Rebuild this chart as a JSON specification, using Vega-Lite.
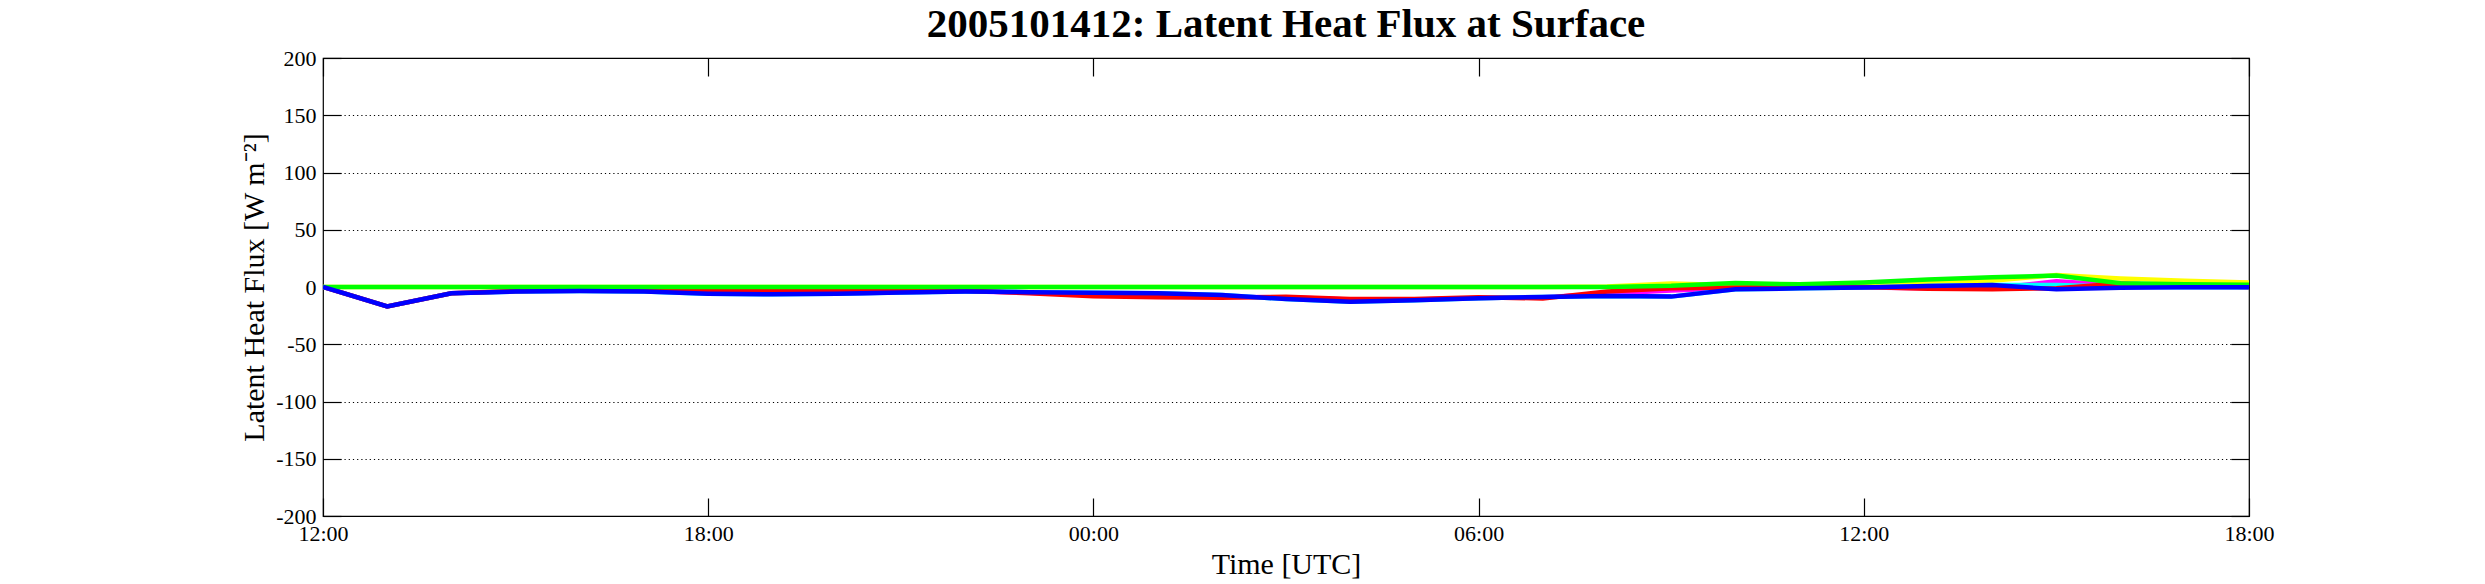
{
  "$schema": "https://vega.github.io/schema/vega-lite/v6.json",
  "width": 1926,
  "height": 458,
  "autosize": "none",
  "padding": {"left": 323, "top": 58, "right": 236, "bottom": 68},
  "background": "white",
  "config": {
    "view": {"stroke": "black", "strokeWidth": 1.2},
    "font": "Liberation Serif"
  },
  "title": {
    "text": "2005101412: Latent Heat Flux at Surface",
    "font": "Liberation Serif",
    "fontSize": 41,
    "fontWeight": "bold",
    "color": "black",
    "anchor": "middle",
    "offset": 1
  },
  "data": {
    "values": [
      {"t": "2005-10-14T12:00Z", "s": "yellow", "v": 0},
      {"t": "2005-10-14T13:00Z", "s": "yellow", "v": 0},
      {"t": "2005-10-14T14:00Z", "s": "yellow", "v": 0},
      {"t": "2005-10-14T15:00Z", "s": "yellow", "v": 0},
      {"t": "2005-10-14T16:00Z", "s": "yellow", "v": 0},
      {"t": "2005-10-14T17:00Z", "s": "yellow", "v": 0},
      {"t": "2005-10-14T18:00Z", "s": "yellow", "v": 0},
      {"t": "2005-10-14T19:00Z", "s": "yellow", "v": 0},
      {"t": "2005-10-14T20:00Z", "s": "yellow", "v": 0},
      {"t": "2005-10-14T21:00Z", "s": "yellow", "v": 0},
      {"t": "2005-10-14T22:00Z", "s": "yellow", "v": 0},
      {"t": "2005-10-14T23:00Z", "s": "yellow", "v": 0},
      {"t": "2005-10-15T00:00Z", "s": "yellow", "v": 0},
      {"t": "2005-10-15T01:00Z", "s": "yellow", "v": 0},
      {"t": "2005-10-15T02:00Z", "s": "yellow", "v": 0},
      {"t": "2005-10-15T03:00Z", "s": "yellow", "v": 0},
      {"t": "2005-10-15T04:00Z", "s": "yellow", "v": 0},
      {"t": "2005-10-15T05:00Z", "s": "yellow", "v": 0},
      {"t": "2005-10-15T06:00Z", "s": "yellow", "v": 0},
      {"t": "2005-10-15T07:00Z", "s": "yellow", "v": 0},
      {"t": "2005-10-15T08:00Z", "s": "yellow", "v": 0.5},
      {"t": "2005-10-15T09:00Z", "s": "yellow", "v": 3},
      {"t": "2005-10-15T10:00Z", "s": "yellow", "v": 1.5},
      {"t": "2005-10-15T11:00Z", "s": "yellow", "v": 1.5},
      {"t": "2005-10-15T12:00Z", "s": "yellow", "v": 2.5},
      {"t": "2005-10-15T13:00Z", "s": "yellow", "v": 4.5},
      {"t": "2005-10-15T14:00Z", "s": "yellow", "v": 5.5},
      {"t": "2005-10-15T15:00Z", "s": "yellow", "v": 10.5},
      {"t": "2005-10-15T16:00Z", "s": "yellow", "v": 7.5},
      {"t": "2005-10-15T17:00Z", "s": "yellow", "v": 5.5},
      {"t": "2005-10-15T18:00Z", "s": "yellow", "v": 4},

      {"t": "2005-10-14T12:00Z", "s": "magenta", "v": 0},
      {"t": "2005-10-14T13:00Z", "s": "magenta", "v": -17},
      {"t": "2005-10-14T14:00Z", "s": "magenta", "v": -5.5},
      {"t": "2005-10-14T15:00Z", "s": "magenta", "v": -3.8},
      {"t": "2005-10-14T16:00Z", "s": "magenta", "v": -3.2},
      {"t": "2005-10-14T17:00Z", "s": "magenta", "v": -3.5},
      {"t": "2005-10-14T18:00Z", "s": "magenta", "v": -5},
      {"t": "2005-10-14T19:00Z", "s": "magenta", "v": -6},
      {"t": "2005-10-14T20:00Z", "s": "magenta", "v": -5.8},
      {"t": "2005-10-14T21:00Z", "s": "magenta", "v": -4.5},
      {"t": "2005-10-14T22:00Z", "s": "magenta", "v": -3.8},
      {"t": "2005-10-14T23:00Z", "s": "magenta", "v": -5},
      {"t": "2005-10-15T00:00Z", "s": "magenta", "v": -7},
      {"t": "2005-10-15T01:00Z", "s": "magenta", "v": -8},
      {"t": "2005-10-15T02:00Z", "s": "magenta", "v": -8.5},
      {"t": "2005-10-15T03:00Z", "s": "magenta", "v": -9},
      {"t": "2005-10-15T04:00Z", "s": "magenta", "v": -11},
      {"t": "2005-10-15T05:00Z", "s": "magenta", "v": -11},
      {"t": "2005-10-15T06:00Z", "s": "magenta", "v": -9.5},
      {"t": "2005-10-15T07:00Z", "s": "magenta", "v": -9},
      {"t": "2005-10-15T08:00Z", "s": "magenta", "v": -6},
      {"t": "2005-10-15T09:00Z", "s": "magenta", "v": -3},
      {"t": "2005-10-15T10:00Z", "s": "magenta", "v": -1},
      {"t": "2005-10-15T11:00Z", "s": "magenta", "v": -0.5},
      {"t": "2005-10-15T12:00Z", "s": "magenta", "v": -0.5},
      {"t": "2005-10-15T13:00Z", "s": "magenta", "v": -1.2},
      {"t": "2005-10-15T14:00Z", "s": "magenta", "v": -1.2},
      {"t": "2005-10-15T15:00Z", "s": "magenta", "v": 5},
      {"t": "2005-10-15T16:00Z", "s": "magenta", "v": 1.5},
      {"t": "2005-10-15T17:00Z", "s": "magenta", "v": 0},
      {"t": "2005-10-15T18:00Z", "s": "magenta", "v": 0},

      {"t": "2005-10-14T12:00Z", "s": "cyan", "v": 0},
      {"t": "2005-10-14T13:00Z", "s": "cyan", "v": -17},
      {"t": "2005-10-14T14:00Z", "s": "cyan", "v": -5.5},
      {"t": "2005-10-14T15:00Z", "s": "cyan", "v": -4},
      {"t": "2005-10-14T16:00Z", "s": "cyan", "v": -3.5},
      {"t": "2005-10-14T17:00Z", "s": "cyan", "v": -4},
      {"t": "2005-10-14T18:00Z", "s": "cyan", "v": -5.8},
      {"t": "2005-10-14T19:00Z", "s": "cyan", "v": -6.4},
      {"t": "2005-10-14T20:00Z", "s": "cyan", "v": -6},
      {"t": "2005-10-14T21:00Z", "s": "cyan", "v": -4.7},
      {"t": "2005-10-14T22:00Z", "s": "cyan", "v": -4},
      {"t": "2005-10-14T23:00Z", "s": "cyan", "v": -4.5},
      {"t": "2005-10-15T00:00Z", "s": "cyan", "v": -5},
      {"t": "2005-10-15T01:00Z", "s": "cyan", "v": -5.5},
      {"t": "2005-10-15T02:00Z", "s": "cyan", "v": -7},
      {"t": "2005-10-15T03:00Z", "s": "cyan", "v": -10.5},
      {"t": "2005-10-15T04:00Z", "s": "cyan", "v": -12.8},
      {"t": "2005-10-15T05:00Z", "s": "cyan", "v": -11.6},
      {"t": "2005-10-15T06:00Z", "s": "cyan", "v": -9.9},
      {"t": "2005-10-15T07:00Z", "s": "cyan", "v": -8.7},
      {"t": "2005-10-15T08:00Z", "s": "cyan", "v": -7.9},
      {"t": "2005-10-15T09:00Z", "s": "cyan", "v": -8.4},
      {"t": "2005-10-15T10:00Z", "s": "cyan", "v": -2},
      {"t": "2005-10-15T11:00Z", "s": "cyan", "v": -1.2},
      {"t": "2005-10-15T12:00Z", "s": "cyan", "v": -0.4},
      {"t": "2005-10-15T13:00Z", "s": "cyan", "v": 0.8},
      {"t": "2005-10-15T14:00Z", "s": "cyan", "v": 1.7},
      {"t": "2005-10-15T15:00Z", "s": "cyan", "v": 1.7},
      {"t": "2005-10-15T16:00Z", "s": "cyan", "v": 0.3},
      {"t": "2005-10-15T17:00Z", "s": "cyan", "v": -0.3},
      {"t": "2005-10-15T18:00Z", "s": "cyan", "v": -0.3},

      {"t": "2005-10-14T12:00Z", "s": "red", "v": 0},
      {"t": "2005-10-14T13:00Z", "s": "red", "v": -17},
      {"t": "2005-10-14T14:00Z", "s": "red", "v": -5.5},
      {"t": "2005-10-14T15:00Z", "s": "red", "v": -3.5},
      {"t": "2005-10-14T16:00Z", "s": "red", "v": -2.8},
      {"t": "2005-10-14T17:00Z", "s": "red", "v": -2.8},
      {"t": "2005-10-14T18:00Z", "s": "red", "v": -3},
      {"t": "2005-10-14T19:00Z", "s": "red", "v": -3},
      {"t": "2005-10-14T20:00Z", "s": "red", "v": -3},
      {"t": "2005-10-14T21:00Z", "s": "red", "v": -3.5},
      {"t": "2005-10-14T22:00Z", "s": "red", "v": -3},
      {"t": "2005-10-14T23:00Z", "s": "red", "v": -5.5},
      {"t": "2005-10-15T00:00Z", "s": "red", "v": -8},
      {"t": "2005-10-15T01:00Z", "s": "red", "v": -9},
      {"t": "2005-10-15T02:00Z", "s": "red", "v": -9.3},
      {"t": "2005-10-15T03:00Z", "s": "red", "v": -8.5},
      {"t": "2005-10-15T04:00Z", "s": "red", "v": -10.5},
      {"t": "2005-10-15T05:00Z", "s": "red", "v": -10.5},
      {"t": "2005-10-15T06:00Z", "s": "red", "v": -9},
      {"t": "2005-10-15T07:00Z", "s": "red", "v": -10},
      {"t": "2005-10-15T08:00Z", "s": "red", "v": -4},
      {"t": "2005-10-15T09:00Z", "s": "red", "v": -1.2},
      {"t": "2005-10-15T10:00Z", "s": "red", "v": -0.5},
      {"t": "2005-10-15T11:00Z", "s": "red", "v": 0},
      {"t": "2005-10-15T12:00Z", "s": "red", "v": 0},
      {"t": "2005-10-15T13:00Z", "s": "red", "v": -1.5},
      {"t": "2005-10-15T14:00Z", "s": "red", "v": -2},
      {"t": "2005-10-15T15:00Z", "s": "red", "v": -1},
      {"t": "2005-10-15T16:00Z", "s": "red", "v": 3},
      {"t": "2005-10-15T17:00Z", "s": "red", "v": 1},
      {"t": "2005-10-15T18:00Z", "s": "red", "v": 0},

      {"t": "2005-10-14T12:00Z", "s": "green", "v": 0},
      {"t": "2005-10-14T13:00Z", "s": "green", "v": 0},
      {"t": "2005-10-14T14:00Z", "s": "green", "v": 0},
      {"t": "2005-10-14T15:00Z", "s": "green", "v": 0},
      {"t": "2005-10-14T16:00Z", "s": "green", "v": 0},
      {"t": "2005-10-14T17:00Z", "s": "green", "v": 0},
      {"t": "2005-10-14T18:00Z", "s": "green", "v": 0},
      {"t": "2005-10-14T19:00Z", "s": "green", "v": 0},
      {"t": "2005-10-14T20:00Z", "s": "green", "v": 0},
      {"t": "2005-10-14T21:00Z", "s": "green", "v": 0},
      {"t": "2005-10-14T22:00Z", "s": "green", "v": 0},
      {"t": "2005-10-14T23:00Z", "s": "green", "v": 0},
      {"t": "2005-10-15T00:00Z", "s": "green", "v": 0},
      {"t": "2005-10-15T01:00Z", "s": "green", "v": 0},
      {"t": "2005-10-15T02:00Z", "s": "green", "v": 0},
      {"t": "2005-10-15T03:00Z", "s": "green", "v": 0},
      {"t": "2005-10-15T04:00Z", "s": "green", "v": 0},
      {"t": "2005-10-15T05:00Z", "s": "green", "v": 0},
      {"t": "2005-10-15T06:00Z", "s": "green", "v": 0},
      {"t": "2005-10-15T07:00Z", "s": "green", "v": 0},
      {"t": "2005-10-15T08:00Z", "s": "green", "v": 0},
      {"t": "2005-10-15T09:00Z", "s": "green", "v": 1},
      {"t": "2005-10-15T10:00Z", "s": "green", "v": 3.5},
      {"t": "2005-10-15T11:00Z", "s": "green", "v": 2.3},
      {"t": "2005-10-15T12:00Z", "s": "green", "v": 4},
      {"t": "2005-10-15T13:00Z", "s": "green", "v": 6.5},
      {"t": "2005-10-15T14:00Z", "s": "green", "v": 8.5},
      {"t": "2005-10-15T15:00Z", "s": "green", "v": 10},
      {"t": "2005-10-15T16:00Z", "s": "green", "v": 3.2},
      {"t": "2005-10-15T17:00Z", "s": "green", "v": 2.5},
      {"t": "2005-10-15T18:00Z", "s": "green", "v": 2},

      {"t": "2005-10-14T12:00Z", "s": "blue", "v": 0},
      {"t": "2005-10-14T13:00Z", "s": "blue", "v": -17},
      {"t": "2005-10-14T14:00Z", "s": "blue", "v": -5.5},
      {"t": "2005-10-14T15:00Z", "s": "blue", "v": -4},
      {"t": "2005-10-14T16:00Z", "s": "blue", "v": -3.5},
      {"t": "2005-10-14T17:00Z", "s": "blue", "v": -4},
      {"t": "2005-10-14T18:00Z", "s": "blue", "v": -5.8},
      {"t": "2005-10-14T19:00Z", "s": "blue", "v": -6.4},
      {"t": "2005-10-14T20:00Z", "s": "blue", "v": -6},
      {"t": "2005-10-14T21:00Z", "s": "blue", "v": -4.7},
      {"t": "2005-10-14T22:00Z", "s": "blue", "v": -4},
      {"t": "2005-10-14T23:00Z", "s": "blue", "v": -4.5},
      {"t": "2005-10-15T00:00Z", "s": "blue", "v": -5},
      {"t": "2005-10-15T01:00Z", "s": "blue", "v": -5.5},
      {"t": "2005-10-15T02:00Z", "s": "blue", "v": -7},
      {"t": "2005-10-15T03:00Z", "s": "blue", "v": -10.5},
      {"t": "2005-10-15T04:00Z", "s": "blue", "v": -12.8},
      {"t": "2005-10-15T05:00Z", "s": "blue", "v": -11.6},
      {"t": "2005-10-15T06:00Z", "s": "blue", "v": -9.9},
      {"t": "2005-10-15T07:00Z", "s": "blue", "v": -8.7},
      {"t": "2005-10-15T08:00Z", "s": "blue", "v": -7.9},
      {"t": "2005-10-15T09:00Z", "s": "blue", "v": -8.4},
      {"t": "2005-10-15T10:00Z", "s": "blue", "v": -2},
      {"t": "2005-10-15T11:00Z", "s": "blue", "v": -1.2},
      {"t": "2005-10-15T12:00Z", "s": "blue", "v": -0.4},
      {"t": "2005-10-15T13:00Z", "s": "blue", "v": 0.8},
      {"t": "2005-10-15T14:00Z", "s": "blue", "v": 1.7},
      {"t": "2005-10-15T15:00Z", "s": "blue", "v": -2},
      {"t": "2005-10-15T16:00Z", "s": "blue", "v": -0.6},
      {"t": "2005-10-15T17:00Z", "s": "blue", "v": -0.3},
      {"t": "2005-10-15T18:00Z", "s": "blue", "v": -0.3}
    ]
  },
  "layer": [
    {
      "mark": {"type": "line", "strokeWidth": 4.5, "clip": true},
      "encoding": {
        "x": {
          "field": "t",
          "type": "temporal",
          "scale": {
            "type": "utc",
            "domain": [
              {"year": 2005, "month": 10, "date": 14, "hours": 12, "utc": true},
              {"year": 2005, "month": 10, "date": 15, "hours": 18, "utc": true}
            ]
          },
          "axis": {
            "orient": "bottom",
            "values": [
              {"year": 2005, "month": 10, "date": 14, "hours": 12, "utc": true},
              {"year": 2005, "month": 10, "date": 14, "hours": 18, "utc": true},
              {"year": 2005, "month": 10, "date": 15, "hours": 0, "utc": true},
              {"year": 2005, "month": 10, "date": 15, "hours": 6, "utc": true},
              {"year": 2005, "month": 10, "date": 15, "hours": 12, "utc": true},
              {"year": 2005, "month": 10, "date": 15, "hours": 18, "utc": true}
            ],
            "labelExpr": "utcFormat(datum.value, '%H:%M')",
            "domain": false,
            "grid": false,
            "tickSize": -18,
            "tickColor": "black",
            "tickWidth": 1.2,
            "labelFont": "Liberation Serif",
            "labelFontSize": 22,
            "labelColor": "black",
            "labelFlush": false,
            "labelOverlap": false,
            "labelBound": false,
            "labelPadding": 25,
            "title": "Time [UTC]",
            "titleFont": "Liberation Serif",
            "titleFontSize": 30,
            "titleFontWeight": "normal",
            "titleColor": "black",
            "titlePadding": 5
          }
        },
        "y": {
          "field": "v",
          "type": "quantitative",
          "scale": {"domain": [-200, 200], "nice": false, "zero": false},
          "axis": {
            "orient": "left",
            "values": [-200, -150, -100, -50, 0, 50, 100, 150, 200],
            "labelExpr": "datum.value < 0 ? '-' + abs(datum.value) : '' + datum.value",
            "domain": false,
            "grid": true,
            "gridColor": "black",
            "gridDash": [1.2, 3],
            "gridWidth": 1.1,
            "tickSize": -18,
            "tickColor": "black",
            "tickWidth": 1.2,
            "labelFont": "Liberation Serif",
            "labelFontSize": 22,
            "labelColor": "black",
            "labelPadding": 25,
            "labelOverlap": false,
            "labelFlush": false,
            "labelBound": false,
            "title": "Latent Heat Flux [W m⁻²]",
            "titleFont": "Liberation Serif",
            "titleFontSize": 30,
            "titleFontWeight": "normal",
            "titleColor": "black",
            "titlePadding": 6
          }
        },
        "color": {
          "field": "s",
          "type": "nominal",
          "scale": {
            "domain": ["yellow", "magenta", "cyan", "red", "green", "blue"],
            "range": ["#ffff00", "#ff00ff", "#00ffff", "#ff0000", "#00ff00", "#0000ff"]
          },
          "legend": null
        }
      }
    },
    {
      "mark": {"type": "line", "opacity": 0},
      "encoding": {
        "x": {
          "field": "t",
          "type": "temporal",
          "axis": {
            "orient": "top",
            "values": [
              {"year": 2005, "month": 10, "date": 14, "hours": 12, "utc": true},
              {"year": 2005, "month": 10, "date": 14, "hours": 18, "utc": true},
              {"year": 2005, "month": 10, "date": 15, "hours": 0, "utc": true},
              {"year": 2005, "month": 10, "date": 15, "hours": 6, "utc": true},
              {"year": 2005, "month": 10, "date": 15, "hours": 12, "utc": true},
              {"year": 2005, "month": 10, "date": 15, "hours": 18, "utc": true}
            ],
            "labels": false,
            "domain": false,
            "grid": false,
            "tickSize": -18,
            "tickColor": "black",
            "tickWidth": 1.2,
            "title": null
          }
        },
        "y": {
          "field": "v",
          "type": "quantitative",
          "axis": {
            "orient": "right",
            "values": [-200, -150, -100, -50, 0, 50, 100, 150, 200],
            "labels": false,
            "domain": false,
            "grid": false,
            "tickSize": -18,
            "tickColor": "black",
            "tickWidth": 1.2,
            "title": null
          }
        },
        "detail": {"field": "s", "type": "nominal"}
      }
    }
  ],
  "resolve": {"axis": {"x": "independent", "y": "independent"}}
}
